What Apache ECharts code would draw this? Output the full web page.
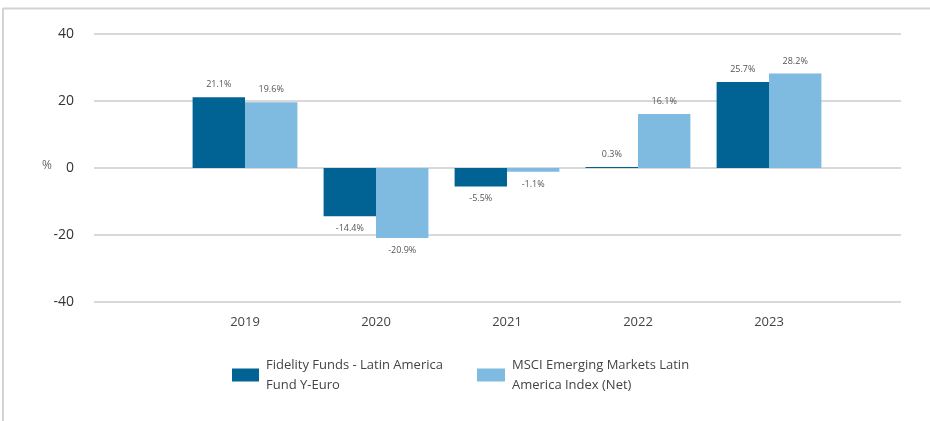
<!DOCTYPE html>
<html><head><meta charset="utf-8">
<script src="https://cdn.jsdelivr.net/npm/echarts@6/dist/echarts.min.js"></script>
<style>html,body{margin:0;padding:0;background:#fff}#c{width:930px;height:421px}</style>
</head><body><div id="c"></div>
<script>
var categories = ['2019', '2020', '2021', '2022', '2023'];
var fundName = 'Fidelity Funds - Latin America\nFund Y-Euro';
var indexName = 'MSCI Emerging Markets Latin\nAmerica Index (Net)';
var fundValues = [21.1, -14.4, -5.5, 0.3, 25.7];
var indexValues = [19.6, -20.9, -1.1, 16.1, 28.2];
var yTicks = [-40, -20, 0, 20, 40];

function items(vals) {
  return vals.map(function (v) {
    return { value: v, label: { position: v < 0 ? 'bottom' : 'top' } };
  });
}
var lbl = { show: true, fontSize: 9, color: '#555', distance: 8, fontFamily: 'Open Sans',
  formatter: function (p) { return p.value.toFixed(1) + '%'; } };
var legText = { fontSize: 13, color: '#444', fontFamily: 'Open Sans', lineHeight: 20, padding: [0, 0, 0, 2] };

var chart = echarts.init(document.getElementById('c'));
chart.setOption({
  animation: false,
  textStyle: { fontFamily: 'Open Sans' },
  grid: [
    { left: 94, right: 29, top: 34, height: 268 },
    { left: 179.5, right: 95.5, top: 34, height: 268 }
  ],
  graphic: [
    { type: 'line', shape: { x1: 3, y1: 8.5, x2: 930, y2: 8.5 }, style: { stroke: '#d3d3d3', lineWidth: 2 } },
    { type: 'line', shape: { x1: 3, y1: 8, x2: 3, y2: 421 }, style: { stroke: '#d3d3d3', lineWidth: 2 } },
    { type: 'text', left: 42, top: 160, style: { text: '%', fontSize: 12, fill: '#666', fontFamily: 'Open Sans' } }
  ],
  legend: [
    { data: [fundName], left: 227, top: 350, itemWidth: 27, itemHeight: 13, icon: 'rect', textStyle: legText },
    { data: [indexName], left: 472, top: 350, itemWidth: 28, itemHeight: 13, icon: 'rect', textStyle: legText }
  ],
  xAxis: [
    { type: 'category', gridIndex: 0, data: categories, show: false },
    { type: 'category', gridIndex: 1, data: categories,
      axisLine: { show: false }, axisTick: { show: false },
      axisLabel: { fontSize: 13, color: '#444', margin: 14 } }
  ],
  yAxis: [
    { type: 'value', gridIndex: 0, min: yTicks[0], max: yTicks[yTicks.length - 1], interval: 20,
      axisLabel: { fontSize: 14, color: '#333', margin: 20 },
      splitLine: { lineStyle: { color: '#d9d9d9', width: 2 } },
      axisLine: { show: false }, axisTick: { show: false } },
    { type: 'value', gridIndex: 1, min: yTicks[0], max: yTicks[yTicks.length - 1], interval: 20,
      show: false, splitLine: { show: false } }
  ],
  series: [
    { name: fundName, type: 'bar', xAxisIndex: 1, yAxisIndex: 1, data: items(fundValues),
      itemStyle: { color: '#006394' }, barGap: '0%', barCategoryGap: '20%', label: lbl },
    { name: indexName, type: 'bar', xAxisIndex: 1, yAxisIndex: 1, data: items(indexValues),
      itemStyle: { color: '#7fbae0' }, barGap: '0%', barCategoryGap: '20%', label: lbl }
  ]
});
</script></body></html>
